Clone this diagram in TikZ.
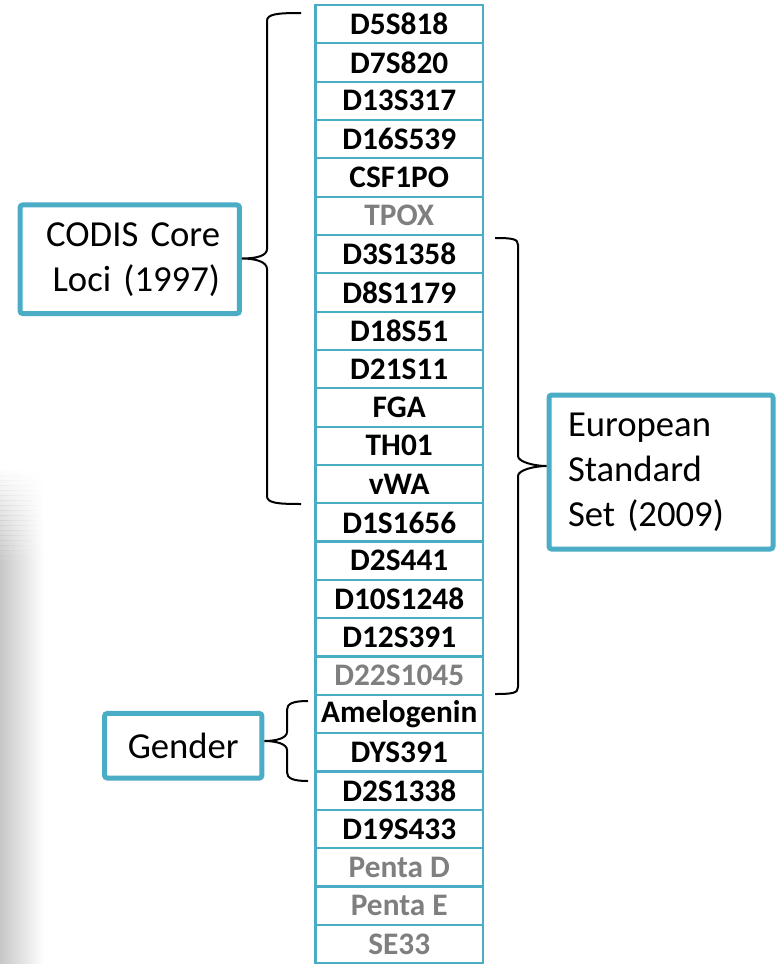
\documentclass[tikz,border=0pt]{standalone}
\usepackage{fontspec}
\setmainfont{Carlito}
\usepackage{xcolor}
\usepackage{tikz}
\usetikzlibrary{positioning,calc}

\definecolor{codisteal}{HTML}{4BACC6}
\definecolor{locusgray}{HTML}{7F7F7F}

\tikzset{
  locus/.style={draw=codisteal, line width=1.7pt, minimum width=125.6pt,
    minimum height=28.75pt, inner sep=0pt,
    font=\bfseries\fontsize{23.5}{28}\selectfont},
  setbox/.style={draw=codisteal, line width=3.75pt, rounded corners=2pt,
    fill=white, font=\fontsize{27.5}{33.75}\selectfont},
  bracket/.style={draw=black, line width=1.5pt}
}

\begin{document}
\begin{tikzpicture}[x=0.75pt,y=-0.75pt]
            \useasboundingbox (0,0) rectangle (777,964);
            \shade[left color=black!22,right color=white] (0,560) rectangle (44,964);
            \foreach \k in {1,...,18}
              \shade[left color=black!22,right color=white,opacity=\k/19]
                   (0,{465+5*\k}) rectangle (44,{470.3+5*\k});

            \foreach \lab/\tc [count=\i from 0] in {D5S818/black,D7S820/black,
                D13S317/black,D16S539/black,CSF1PO/black,TPOX/locusgray,
                D3S1358/black,D8S1179/black,D18S51/black,D21S11/black,FGA/black,
                TH01/black,vWA/black,D1S1656/black,D2S441/black,D10S1248/black,
                D12S391/black,D22S1045/locusgray,Amelogenin/black,DYS391/black,
                D2S1338/black,D19S433/black,Penta D/locusgray,Penta E/locusgray,
                SE33/locusgray}
              \node[locus,text=\tc] (c\i) at (399.25,{5+38.33*(\i+0.5)}) {\lab};

            \node[setbox,minimum width=164.6pt,minimum height=81.4pt,
                  text width=135.4pt,inner xsep=14.6pt,align=right]
                  (codis) at (129.75,259.25) {CODIS Core\\Loci (1997)};
            \node[setbox,minimum width=168pt,minimum height=115.5pt,
                  text width=139.5pt,inner xsep=14.25pt,align=left]
                  (euro) at (661,472) {European\\Standard\\Set (2009)};
            \node[setbox,minimum width=118pt,minimum height=48.4pt]
                  (gender) at (183.25,745.75) {Gender};

            \coordinate (codisTop) at (301,13);
            \coordinate (codisBot) at (301,504);
            \coordinate (codisMid) at ($(codisTop)!0.5!(codisBot)$);
            \draw[bracket] (codisTop) .. controls +(-24,0) and +(0,-7) .. (267,21)
                 -- (267,249) .. controls +(0,7) and +(14,0) .. (codisMid -| codis.east)
                 .. controls +(14,0) and +(0,-7) .. (267,269)
                 -- (267,496) .. controls +(0,7) and +(-24,0) .. (codisBot);

            \coordinate (euroTop) at (495,238);
            \coordinate (euroBot) at (495,694);
            \coordinate (euroMid) at ($(euroTop)!0.5!(euroBot)$);
            \draw[bracket] (euroTop) .. controls +(18,0) and +(0,-6) .. (518,245)
                 -- (518,456) .. controls +(0,6) and +(-12,0) .. (euroMid -| euro.west)
                 .. controls +(-12,0) and +(0,-6) .. (518,476)
                 -- (518,687) .. controls +(0,6) and +(18,0) .. (euroBot);

            \coordinate (genTop) at (308,701);
            \coordinate (genBot) at (308,781);
            \coordinate (genMid) at ($(genTop)!0.5!(genBot)$);
            \draw[bracket] (genTop) .. controls +(-16,0) and +(0,-6) .. (287,710)
                 -- (287,732) .. controls +(0,6) and +(12,0) .. (genMid -| gender.east)
                 .. controls +(12,0) and +(0,-6) .. (287,750)
                 -- (287,772) .. controls +(0,6) and +(-16,0) .. (genBot);
          \end{tikzpicture}
\end{document}
